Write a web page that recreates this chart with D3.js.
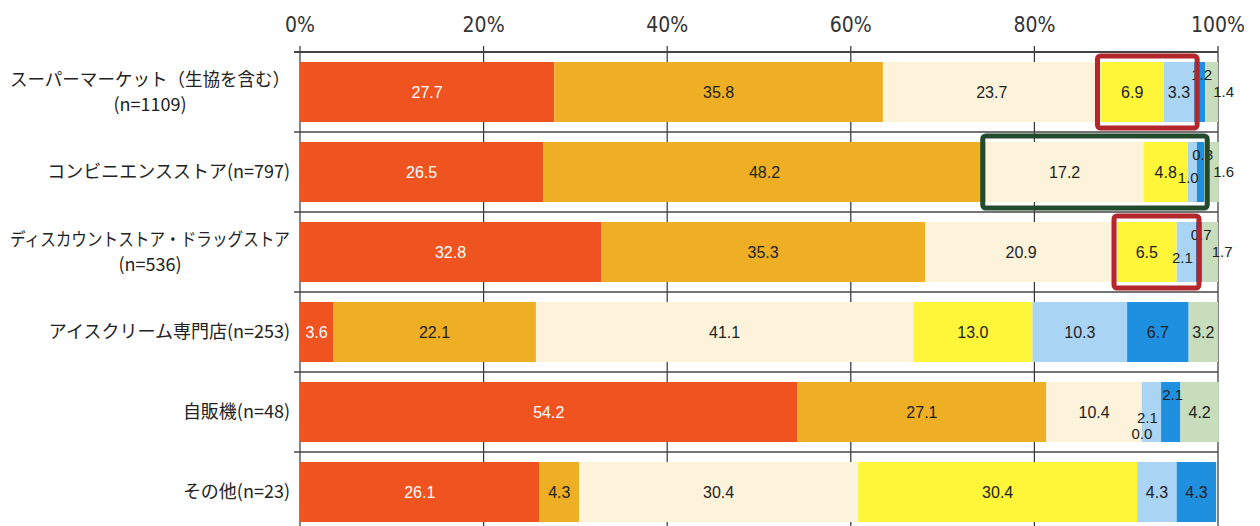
<!DOCTYPE html>
<html><head><meta charset="utf-8">
<script src="https://cdn.jsdelivr.net/npm/d3@7"></script>
<style>body{margin:0;background:#fff}svg{display:block}</style>
</head><body><svg id="c" width="1260" height="526"></svg>
<script>
const categories = [
  ["スーパーマーケット（生協を含む）", "(n=1109)"],
  ["コンビニエンスストア(n=797)"],
  ["ディスカウントストア・ドラッグストア", "(n=536)"],
  ["アイスクリーム専門店(n=253)"],
  ["自販機(n=48)"],
  ["その他(n=23)"]
];
const s1 = [27.7, 26.5, 32.8, 3.6, 54.2, 26.1];
const s2 = [35.8, 48.2, 35.3, 22.1, 27.1, 4.3];
const s3 = [23.7, 17.2, 20.9, 41.1, 10.4, 30.4];
const s4 = [6.9, 4.8, 6.5, 13.0, 0.0, 30.4];
const s5 = [3.3, 1.0, 2.1, 10.3, 2.1, 4.3];
const s6 = [1.2, 0.8, 0.7, 6.7, 2.1, 4.3];
const s7 = [1.4, 1.6, 1.7, 3.2, 4.2, 0.0];
const ticks = [0, 20, 40, 60, 80, 100];
const colors = ["#EF5420", "#EEAF24", "#FDF2DA", "#FFF63A", "#AAD4F4", "#1F8FDF", "#C7DDBB"];
const highlights = [
  {row: 0, from: 3, to: 4, color: "#B3262B"},
  {row: 1, from: 2, to: 5, color: "#234A2C"},
  {row: 2, from: 3, to: 4, color: "#B3262B"}
];

const series = [s1, s2, s3, s4, s5, s6, s7];
const svg = d3.select("#c");
const x = d3.scaleLinear().domain([0, 100]).range([300, 1218]);
const y = d3.scaleBand().domain(d3.range(categories.length)).range([52, 532]).paddingInner(0.25).paddingOuter(0.125);
const step = y.step();

// gridlines
const g = svg.append("g");
g.selectAll("line.v").data(ticks).join("line")
  .attr("x1", d => x(d)).attr("x2", d => x(d)).attr("y1", 46).attr("y2", 532)
  .attr("stroke", "#333").attr("stroke-width", 1.2);
g.selectAll("line.h").data(d3.range(categories.length + 1)).join("line")
  .attr("x1", x(0) - 6).attr("x2", x(100)).attr("y1", d => 52 + d * step).attr("y2", d => 52 + d * step)
  .attr("stroke", "#444").attr("stroke-width", d => d === 0 ? 2 : 1.5);

// axis labels
svg.append("g").selectAll("text").data(ticks).join("text")
  .attr("x", d => x(d)).attr("y", 32).attr("text-anchor", "middle")
  .attr("font-family", "'Liberation Sans Narrow', 'DejaVu Sans Condensed', sans-serif")
  .attr("font-size", 21).attr("fill", "#333").text(d => d + "%");

// stacked data
const rows = categories.map((c, i) => {
  let acc = 0;
  return series.map((s, k) => { const v = s[i]; const r = {row: i, k, v, x0: acc, x1: acc + v}; acc += v; return r; });
});

const bars = svg.append("g");
rows.forEach(r => {
  bars.selectAll(null).data(r.filter(d => d.v > 0)).join("rect")
    .attr("x", d => x(d.x0)).attr("width", d => x(d.x1) - x(d.x0))
    .attr("y", d => y(d.row)).attr("height", y.bandwidth())
    .attr("fill", d => colors[d.k]);
});

// value labels
const lab = svg.append("g").attr("font-family", "'Liberation Sans', Arial, sans-serif");
rows.forEach(r => {
  r.forEach(d => {
    if (d.k === 6 && d.v === 0) return;
    const small = d.v < 2.5;
    let cx = x((d.x0 + d.x1) / 2);
    let cy = y(d.row) + y.bandwidth() / 2;
    let fs = 16;
    if (small) {
      fs = 15;
      if (d.k === 6) { cx += 12; }
      else if (d.k === 5) { cy -= 17; cx += 2; }
      else if (d.k === 4) { cy += 6; cx -= 4; }
      else if (d.k === 3) { cy += 22; }
    }
    lab.append("text").attr("x", cx).attr("y", cy).attr("dy", "0.36em")
      .attr("text-anchor", "middle").attr("font-size", fs)
      .attr("fill", d.k === 0 ? "#fff" : "#222").text(d.v.toFixed(1));
  });
});

// highlight boxes
svg.append("g").selectAll("rect").data(highlights).join("rect")
  .attr("x", d => x(rows[d.row][d.from].x0) - 3)
  .attr("width", d => x(rows[d.row][d.to].x1) - x(rows[d.row][d.from].x0) + 6)
  .attr("y", d => y(d.row) - 6).attr("height", y.bandwidth() + 12)
  .attr("rx", 3).attr("fill", "none").attr("stroke", d => d.color).attr("stroke-width", 5);

// category labels
const maxW = 280;
const cl = svg.append("g").attr("font-family", "'Noto Sans CJK JP', sans-serif").attr("font-size", 18).attr("fill", "#222");
function fit(t) {
  const w = t.node().getComputedTextLength();
  if (w > maxW) t.attr("textLength", maxW).attr("lengthAdjust", "spacingAndGlyphs");
  return t;
}
categories.forEach((c, i) => {
  const cy = y(i) + y.bandwidth() / 2;
  if (c.length === 1) {
    fit(cl.append("text").attr("x", 290).attr("y", cy).attr("dy", "0.36em").attr("text-anchor", "end").text(c[0]));
  } else {
    fit(cl.append("text").attr("x", 290).attr("y", cy - 12).attr("dy", "0.36em").attr("text-anchor", "end").text(c[0]));
    cl.append("text").attr("x", 150).attr("y", cy + 13).attr("dy", "0.36em").attr("text-anchor", "middle").text(c[1]);
  }
});
</script></body></html>
